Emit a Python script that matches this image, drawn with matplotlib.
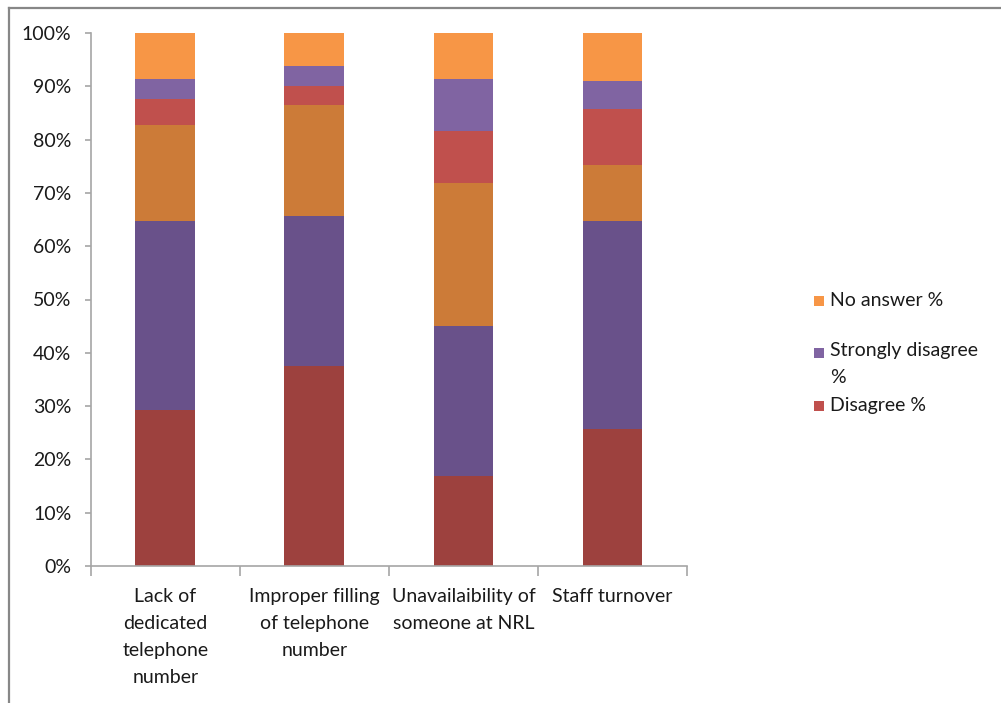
import matplotlib
matplotlib.use("Agg")
import matplotlib.pyplot as plt
from matplotlib.patches import Rectangle
from matplotlib.lines import Line2D
import numpy as np

plt.rcParams['font.family'] = ['Lato', 'DejaVu Sans']

categories = [
    "Lack of\ndedicated\ntelephone\nnumber",
    "Improper filling\nof telephone\nnumber",
    "Unavailaibility of\nsomeone at NRL",
    "Staff turnover",
]

series_names = [
    "Strongly agree %",
    "Agree %",
    "Neutral %",
    "Disagree %",
    "Strongly disagree %",
    "No answer %",
]

strongly_agree = [29.3, 37.6, 16.9, 25.7]
agree = [35.4, 28.0, 28.1, 39.1]
neutral = [18.1, 20.9, 26.8, 10.4]
disagree = [4.9, 3.6, 9.8, 10.5]
strongly_disagree = [3.7, 3.8, 9.8, 5.3]
no_answer = [8.6, 6.1, 8.6, 9.0]

series_values = [strongly_agree, agree, neutral, disagree, strongly_disagree, no_answer]
series_colors = ["#9D413E", "#69518A", "#CC7B38", "#C0504D", "#8064A2", "#F79646"]

# legend entries shown (top to bottom), with their wrapped labels
legend_items = [
    ("No answer %", "#F79646"),
    ("Strongly disagree\n%", "#8064A2"),
    ("Disagree %", "#C0504D"),
]

FS = 14
LS = 1.7
TXT = "#1a1a1a"

W, H = 1001, 703
fig = plt.figure(figsize=(W / 100, H / 100), dpi=100)

def fx(px):
    return px / W

def fy(py):
    return 1 - py / H

ax = fig.add_axes([fx(90.7), fy(566), fx(687) - fx(90.7), fy(33) - fy(566)])

x = np.arange(len(categories))
totals = np.sum(np.array(series_values), axis=0)
bottom = np.zeros(len(categories))
for name, vals, col in zip(series_names, series_values, series_colors):
    frac = np.array(vals) / totals
    ax.bar(x, frac, width=0.4, bottom=bottom, color=col, label=name, linewidth=0)
    bottom += frac

ax.set_xlim(-0.5, len(categories) - 0.5)
ax.set_ylim(0, 1)

axis_col = "#A6A6A6"
for side in ("top", "right"):
    ax.spines[side].set_visible(False)
for side in ("left", "bottom"):
    ax.spines[side].set_color(axis_col)
    ax.spines[side].set_linewidth(1.2)

ax.set_yticks(np.linspace(0, 1, 11))
ax.set_yticklabels([f"{int(round(v * 100))}%" for v in np.linspace(0, 1, 11)])
ax.tick_params(axis="y", length=4.5, width=1.2, color=axis_col, pad=9.5,
               labelsize=FS, labelcolor=TXT)

ax.set_xticks(x)
ax.set_xticklabels(categories, linespacing=LS)
ax.tick_params(axis="x", length=0, pad=16, labelsize=FS, labelcolor=TXT)
ax.set_xticks(np.arange(-0.5, len(categories), 1.0), minor=True)
ax.tick_params(axis="x", which="minor", length=7, width=1.2, color=axis_col)
for lab in ax.get_xticklabels():
    lab.set_verticalalignment("top")

# chart frame (left and top edges)
frame_col = "#878787"
fig.add_artist(Line2D([fx(8.5), fx(8.5)], [fy(7.5), 0], color=frame_col, lw=1.6,
                      transform=fig.transFigure))
fig.add_artist(Line2D([fx(8.5), 1], [fy(7.5), fy(7.5)], color=frame_col, lw=1.6,
                      transform=fig.transFigure))

# legend
legend_y = [301, 353, 406]
for (label, col), yc in zip(legend_items, legend_y):
    fig.add_artist(Rectangle((fx(814), fy(yc + 5)), fx(10), fy(yc - 5) - fy(yc + 5),
                             facecolor=col, edgecolor="none", transform=fig.transFigure))
    multi = "\n" in label
    fig.text(fx(830), fy(yc - 11) if multi else fy(yc), label, fontsize=FS, color=TXT,
             ha="left", va="top" if multi else "center", linespacing=LS)

fig.savefig("out.png", dpi=100, facecolor="white")
